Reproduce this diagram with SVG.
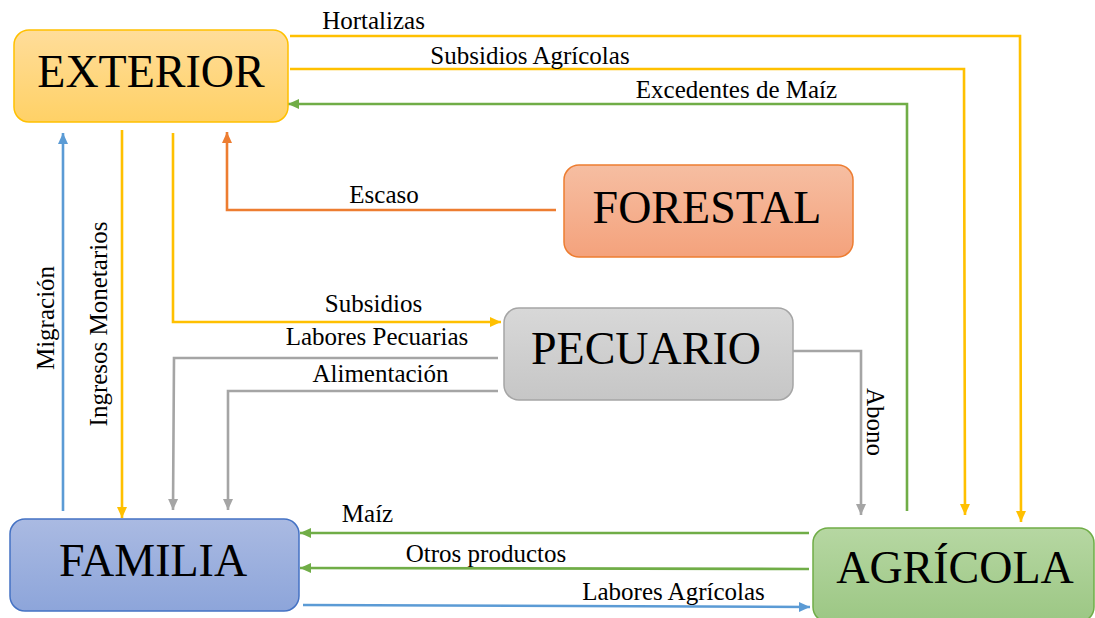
<svg xmlns="http://www.w3.org/2000/svg" width="1095" height="618" viewBox="0 0 1095 618">
<style>
.node-text{font-family:"Liberation Serif","Times New Roman",serif;font-size:46px;fill:#000;text-anchor:middle}
.lbl{font-family:"Liberation Serif","Times New Roman",serif;font-size:25px;fill:#000;text-anchor:middle}
.c{fill:none;stroke-width:2.6}
.y{stroke:#FFC000}.g{stroke:#70AD47}.b{stroke:#5B9BD5}.gr{stroke:#A5A5A5}.o{stroke:#ED7D31}
</style>
<defs>
<linearGradient id="gExt" x1="0" y1="0" x2="0" y2="1"><stop offset="0" stop-color="#FFDD9A"/><stop offset="1" stop-color="#FFD166"/></linearGradient>
<linearGradient id="gFor" x1="0" y1="0" x2="0" y2="1"><stop offset="0" stop-color="#F6BEA2"/><stop offset="1" stop-color="#F4A27C"/></linearGradient>
<linearGradient id="gPec" x1="0" y1="0" x2="0" y2="1"><stop offset="0" stop-color="#D8D8D8"/><stop offset="1" stop-color="#C6C6C6"/></linearGradient>
<linearGradient id="gFam" x1="0" y1="0" x2="0" y2="1"><stop offset="0" stop-color="#AABAE2"/><stop offset="1" stop-color="#8DA5DA"/></linearGradient>
<linearGradient id="gAgr" x1="0" y1="0" x2="0" y2="1"><stop offset="0" stop-color="#B6D7A2"/><stop offset="1" stop-color="#9CC784"/></linearGradient>
<marker id="aY" markerUnits="userSpaceOnUse" markerWidth="12" markerHeight="12" refX="11" refY="6" orient="auto"><path d="M0,1 L11,6 L0,11 z" fill="#FFC000"/></marker>
<marker id="aG" markerUnits="userSpaceOnUse" markerWidth="12" markerHeight="12" refX="11" refY="6" orient="auto"><path d="M0,1 L11,6 L0,11 z" fill="#70AD47"/></marker>
<marker id="aB" markerUnits="userSpaceOnUse" markerWidth="12" markerHeight="12" refX="11" refY="6" orient="auto"><path d="M0,1 L11,6 L0,11 z" fill="#5B9BD5"/></marker>
<marker id="aGr" markerUnits="userSpaceOnUse" markerWidth="12" markerHeight="12" refX="11" refY="6" orient="auto"><path d="M0,1 L11,6 L0,11 z" fill="#A5A5A5"/></marker>
<marker id="aO" markerUnits="userSpaceOnUse" markerWidth="12" markerHeight="12" refX="11" refY="6" orient="auto"><path d="M0,1 L11,6 L0,11 z" fill="#ED7D31"/></marker>
</defs>
<rect width="1095" height="618" fill="#FFFFFF"/>
<g id="connectors">
<polyline class="c y" points="290,36 1020,36 1021,522" marker-end="url(#aY)"/>
<polyline class="c y" points="290,69 964,69 965,515" marker-end="url(#aY)"/>
<polyline class="c g" points="907,511 907,104 288,104" marker-end="url(#aG)"/>
<polyline class="c o" points="556,210 227,210 227,132" marker-end="url(#aO)"/>
<polyline class="c y" points="173,133 173,322 501,322" marker-end="url(#aY)"/>
<line class="c y" x1="122" y1="130" x2="122" y2="518" marker-end="url(#aY)"/>
<line class="c b" x1="63" y1="511" x2="63" y2="133" marker-end="url(#aB)"/>
<polyline class="c gr" points="498,358 174,358 173,510" marker-end="url(#aGr)"/>
<polyline class="c gr" points="498,391 228,391 228,510" marker-end="url(#aGr)"/>
<polyline class="c gr" points="793,351 861,351 861,515" marker-end="url(#aGr)"/>
<line class="c g" x1="809" y1="533" x2="300" y2="533" marker-end="url(#aG)"/>
<line class="c g" x1="809" y1="569" x2="300" y2="568" marker-end="url(#aG)"/>
<line class="c b" x1="303" y1="605" x2="810" y2="607" marker-end="url(#aB)"/>
<text class="lbl" x="373.5" y="29">Hortalizas</text>
<text class="lbl" x="530" y="64">Subsidios Agrícolas</text>
<text class="lbl" x="736.5" y="98">Excedentes de Maíz</text>
<text class="lbl" x="384" y="203">Escaso</text>
<text class="lbl" x="373.5" y="312">Subsidios</text>
<text class="lbl" x="377" y="345">Labores Pecuarias</text>
<text class="lbl" x="380.5" y="382">Alimentación</text>
<text class="lbl" x="367.5" y="522">Maíz</text>
<text class="lbl" x="486" y="562">Otros productos</text>
<text class="lbl" x="673.5" y="600">Labores Agrícolas</text>
<text class="lbl" transform="translate(107,324) rotate(-90)">Ingresos Monetarios</text>
<text class="lbl" transform="translate(54,318) rotate(-90)">Migración</text>
<text class="lbl" transform="translate(867,422) rotate(90)">Abono</text>
</g>
<g id="exterior">
<rect x="14" y="30" width="274" height="92" rx="15" fill="url(#gExt)" stroke="#FFC000" stroke-width="1.5"/>
<text class="node-text" x="151" y="87">EXTERIOR</text>
</g>
<g id="forestal">
<rect x="564" y="165" width="289" height="92" rx="15" fill="url(#gFor)" stroke="#ED7D31" stroke-width="1.5"/>
<text class="node-text" x="707" y="223">FORESTAL</text>
</g>
<g id="pecuario">
<rect x="504" y="308" width="289" height="92" rx="15" fill="url(#gPec)" stroke="#A5A5A5" stroke-width="1.5"/>
<text class="node-text" x="646" y="364">PECUARIO</text>
</g>
<g id="familia">
<rect x="10" y="519" width="289" height="92" rx="15" fill="url(#gFam)" stroke="#4472C4" stroke-width="1.5"/>
<text class="node-text" x="153" y="576">FAMILIA</text>
</g>
<g id="agricola">
<rect x="813" y="528" width="281" height="94" rx="15" fill="url(#gAgr)" stroke="#70AD47" stroke-width="1.5"/>
<text class="node-text" x="955" y="583">AGRÍCOLA</text>
</g>
</svg>
